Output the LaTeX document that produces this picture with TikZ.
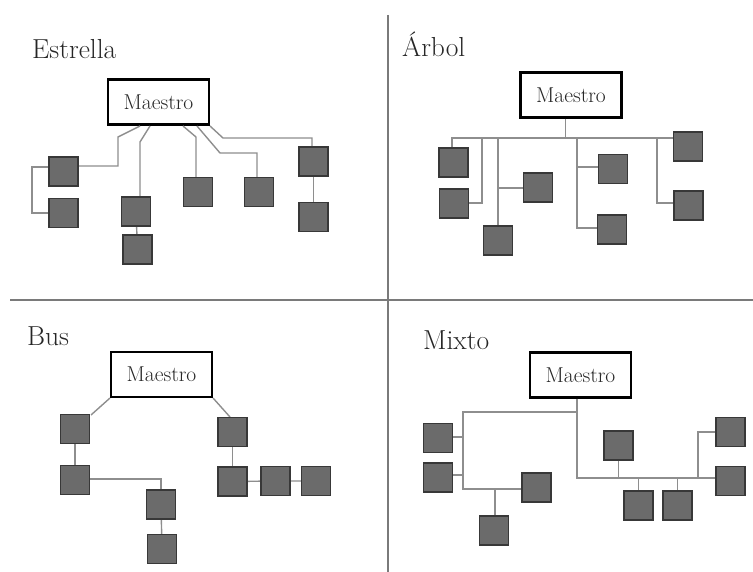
\documentclass[tikz,border=0pt]{standalone}
\usepackage{fontspec}
\usetikzlibrary{calc}
\definecolor{devfill}{HTML}{6B6B6B}
\definecolor{devline}{HTML}{383838}
\definecolor{wirecol}{HTML}{8E8E8E}
\definecolor{rulecol}{HTML}{7A7A7A}
\definecolor{inkcol}{HTML}{262626}
\tikzset{
  dev/.style={draw=devline, line width=1.4pt, fill=devfill, minimum width=29pt, minimum height=29pt, inner sep=0pt},
  master/.style={draw=black, line width=2.2pt, fill=white, minimum width=101pt, minimum height=45pt, inner sep=0pt, text=inkcol, font=\fontsize{21.5}{21.5}\selectfont},
  wire/.style={draw=wirecol, line width=1.4pt},
  divider/.style={draw=rulecol, line width=2pt},
  heading/.style={anchor=base west, inner sep=0pt, text=inkcol, font=\fontsize{27.5}{27.5}\selectfont}
}
\begin{document}
\begin{tikzpicture}[x=1pt, y=-1pt]
\useasboundingbox (0,0) rectangle (753,572);

% quadrant dividers
\coordinate (vt) at (388,15);
\coordinate (vb) at (388,572);
\coordinate (hl) at (10,300.5);
\coordinate (hr) at (753,300.5);
\draw[divider] (vt) -- (vb);
\draw[divider] (hl) -- (hr);

% ---------------- Estrella ----------------
\node[heading] (tE) at (32,59) {Estrella};
\node[master] (mE) at (158.5,102) {Maestro};
\node[dev] (e1) at (63.5,171.5) {};
\node[dev] (e2) at (63.5,213) {};
\node[dev] (e3) at (136,211.5) {};
\node[dev] (e4) at (137.5,249.5) {};
\node[dev] (e5) at (198,192) {};
\node[dev] (e6) at (259,192) {};
\node[dev] (e7) at (313.5,161.5) {};
\node[dev] (e8) at (313.5,217) {};
\coordinate (ea1) at (118,166);
\coordinate (ea2) at (118,137);
\coordinate (ea3) at (140,126);
\coordinate (eb1) at (32,167);
\coordinate (eb2) at (32,213);
\coordinate (ec1) at (140,142);
\coordinate (ec2) at (150,126);
\coordinate (ed1) at (196,137);
\coordinate (ed2) at (183,126);
\coordinate (ee1) at (257,153);
\coordinate (ee2) at (220,153);
\coordinate (ee3) at (197,126);
\coordinate (ef1) at (312,138);
\coordinate (ef2) at (223,138);
\coordinate (ef3) at (210,126);
\draw[wire] (e1.east |- ea1) -- (ea1) -- (ea2) -- (ea3);
\draw[wire] (e1.west |- eb1) -- (eb1) -- (eb2) -- (e2.west |- eb2);
\draw[wire] (e3.north -| ec1) -- (ec1) -- (ec2);
\draw[wire] (e3) -- (e4);
\draw[wire] (e5.north -| ed1) -- (ed1) -- (ed2);
\draw[wire] (e6.north -| ee1) -- (ee1) -- (ee2) -- (ee3);
\draw[wire] (e7.north -| ef1) -- (ef1) -- (ef2) -- (ef3);
\draw[wire] (e7) -- (e8);
\node[dev] at (e1) {};
\node[dev] at (e2) {};
\node[dev] at (e3) {};
\node[dev] at (e4) {};
\node[dev] at (e7) {};
\node[dev] at (e8) {};

% ---------------- Arbol ----------------
\node[heading] (tA) at (402,57) {Árbol};
\node[master] (mA) at (571,95) {Maestro};
\node[dev] (a1) at (453.5,162.5) {};
\node[dev] (a2) at (454,203.5) {};
\node[dev] (a3) at (498,240.5) {};
\node[dev] (a4) at (538,187.5) {};
\node[dev] (a5) at (613,169) {};
\node[dev] (a6) at (612,229.5) {};
\node[dev] (a7) at (688,146.5) {};
\node[dev] (a8) at (688.5,205.5) {};
\coordinate (abL) at (452,138);
\coordinate (abM) at (565.7,138);
\coordinate (ab1) at (482,138);
\coordinate (ab2) at (482,203);
\coordinate (ac1) at (498,138);
\coordinate (ac2) at (498,188);
\coordinate (ad1) at (577,138);
\coordinate (ad2) at (577,167);
\coordinate (ad3) at (577,228);
\coordinate (ae1) at (657,138);
\coordinate (ae2) at (657,203);
\draw[wire] (mA.south -| abM) -- (abM);
\draw[wire] (abL) -- (a7.west |- abL);
\draw[wire] (a1.north -| abL) -- ++(0,-10);
\draw[wire] (ab1) -- (ab2) -- (a2.east |- ab2);
\draw[wire] (ac1) -- (a3.north -| ac1);
\draw[wire] (ac2) -- (a4.west |- ac2);
\draw[wire] (ad1) -- (ad3) -- (a6.west |- ad3);
\draw[wire] (ad2) -- (a5.west |- ad2);
\draw[wire] (ae1) -- (ae2) -- (a8.west |- ae2);
\node[dev] at (a1) {};
\node[dev] at (a7) {};

% ---------------- Bus ----------------
\node[heading] (tB) at (27,345) {Bus};
\node[master] (mB) at (161.5,374.5) {Maestro};
\node[dev] (b1) at (75,429) {};
\node[dev] (b2) at (75,480) {};
\node[dev] (b3) at (161,504.5) {};
\node[dev] (b4) at (162,549) {};
\node[dev] (b5) at (232.5,432) {};
\node[dev] (b6) at (232.5,481.5) {};
\node[dev] (b7) at (275.5,481) {};
\node[dev] (b8) at (316,481) {};
\coordinate (bb1) at (161,479);
\coordinate (bs1) at (91,415);
\coordinate (bs2) at (230,417);
\draw[wire] (mB.south west) -- (bs1);
\draw[wire] (mB.south east) -- (bs2);
\draw[wire] (b1) -- (b2);
\draw[wire] (b2.east |- bb1) -- (bb1) -- (b3.north);
\draw[wire] (b3) -- (b4);
\draw[wire] (b5) -- (b6);
\draw[wire] (b6) -- (b7) -- (b8);
\foreach \n in {b1,b2,b3,b4,b5,b6,b7,b8} \node[dev] at (\n) {};
\node[master] at (mB) {Maestro};

% ---------------- Mixto ----------------
\node[heading] (tM) at (423,349) {Mixto};
\node[master] (mM) at (580.5,375) {Maestro};
\node[dev] (x1) at (438,438) {};
\node[dev] (x2) at (438,477.5) {};
\node[dev] (x3) at (536.5,487.5) {};
\node[dev] (x4) at (494,530.5) {};
\node[dev] (x5) at (618.5,445.5) {};
\node[dev] (x6) at (638.5,505.5) {};
\node[dev] (x7) at (677.5,505.5) {};
\node[dev] (x8) at (730.5,432) {};
\node[dev] (x9) at (730.5,481) {};
\coordinate (xm1) at (577,412);
\coordinate (xm2) at (577,478);
\coordinate (xl1) at (463,412);
\coordinate (xl2) at (463,489);
\coordinate (xs1) at (463,437);
\coordinate (xs2) at (463,475);
\coordinate (xd1) at (495,489);
\coordinate (xr1) at (698,478);
\coordinate (xr2) at (698,432);
\draw[wire] (mM.south -| xm1) -- (xm1) -- (xm2) -- (x9.west |- xm2);
\draw[wire] (xm1) -- (xl1) -- (xl2) -- (x3.west |- xl2);
\draw[wire] (xs1) -- (x1.east |- xs1);
\draw[wire] (xs2) -- (x2.east |- xs2);
\draw[wire] (xd1) -- (x4.north -| xd1);
\draw[wire] (x5.south) -- (x5.south |- xm2);
\draw[wire] (x6.north |- xm2) -- (x6.north);
\draw[wire] (x7.north |- xm2) -- (x7.north);
\draw[wire] (xr1) -- (xr2) -- (x8.west |- xr2);
\node[dev] at (x9) {};
\end{tikzpicture}
\end{document}
